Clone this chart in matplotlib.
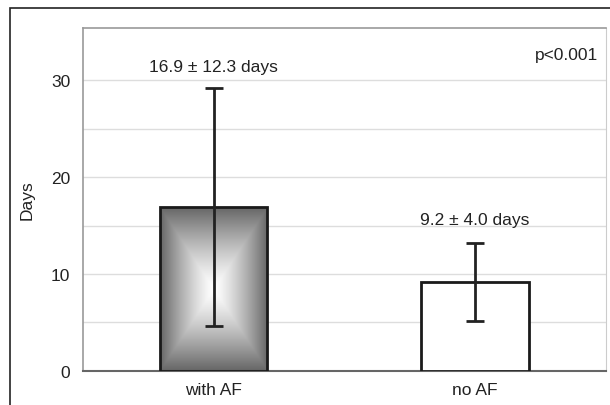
import matplotlib.pyplot as plt
import numpy as np
from matplotlib.patches import Rectangle

plt.rcParams['font.family'] = ['Liberation Sans', 'DejaVu Sans']

groups = ['with AF', 'no AF']
means = [16.9, 9.2]
sds = [12.3, 4.0]
labels = ['16.9 \u00b1 12.3 days', '9.2 \u00b1 4.0 days']
label_y = [31.4, 15.6]
p_text = 'p<0.001'

fs = 12.5
tc = '#222222'

fig = plt.figure(figsize=(6.1, 4.06), dpi=100)
ax = fig.add_axes([0.136, 0.084, 0.857, 0.845])

# outer frame (only left and top are visible in the figure)
fig.patches.append(Rectangle((10 / 610, -0.1), 1.2, 1.1 - 9 / 406,
                             transform=fig.transFigure, fill=False,
                             edgecolor=tc, lw=1.2, zorder=0))

x = np.arange(len(groups))
width = 0.41
bars = ax.bar(x, means, width=width, color='white', edgecolor='#1a1a1a',
              linewidth=2, zorder=3)

# box gradient fill for the first bar
b = bars[0]
b.set_facecolor('none')
n = 200
u = np.abs(np.linspace(-1, 1, n))
g = np.maximum(u[None, :], u[:, None])
shade = 1 - 0.6 * g ** 1.3
img = np.dstack([shade, shade, shade])
x0, w0, h0 = b.get_x(), b.get_width(), b.get_height()
ax.imshow(img, extent=[x0, x0 + w0, 0, h0], aspect='auto',
          origin='lower', zorder=2.5, interpolation='bilinear')

ax.errorbar(x, means, yerr=sds, fmt='none', ecolor=tc, elinewidth=2,
            capsize=6.5, capthick=2, zorder=4)

for xi, yi, t in zip(x, label_y, labels):
    ax.text(xi, yi, t, ha='center', va='center', fontsize=fs, color=tc)
ax.text(1.47, 32.6, p_text, ha='right', va='center', fontsize=fs, color=tc)

ax.set_xlim(-0.5, 1.5)
ax.set_ylim(0, 35.4)
ax.set_yticks([0, 10, 20, 30])
ax.set_yticks([5, 15, 25], minor=True)
ax.set_xticks(x)
ax.set_xticklabels(groups, fontsize=fs, color=tc)
ax.tick_params(axis='y', length=0, labelsize=fs, labelcolor=tc, pad=9)
ax.tick_params(axis='x', length=0, pad=8)
ax.tick_params(axis='y', which='minor', length=0)
ax.grid(True, axis='y', which='both', color='#dddddd', linewidth=1, zorder=0)
ax.set_axisbelow(True)
ax.set_ylabel('Days', fontsize=fs, color=tc)
ax.yaxis.set_label_coords(-0.093, 0.5)

for s in ['left', 'top']:
    ax.spines[s].set_color('#999999')
    ax.spines[s].set_linewidth(1.2)
ax.spines['right'].set_color('#cccccc')
ax.spines['bottom'].set_color('#666666')
ax.spines['bottom'].set_linewidth(1.5)

fig.savefig('out.png', dpi=100)
